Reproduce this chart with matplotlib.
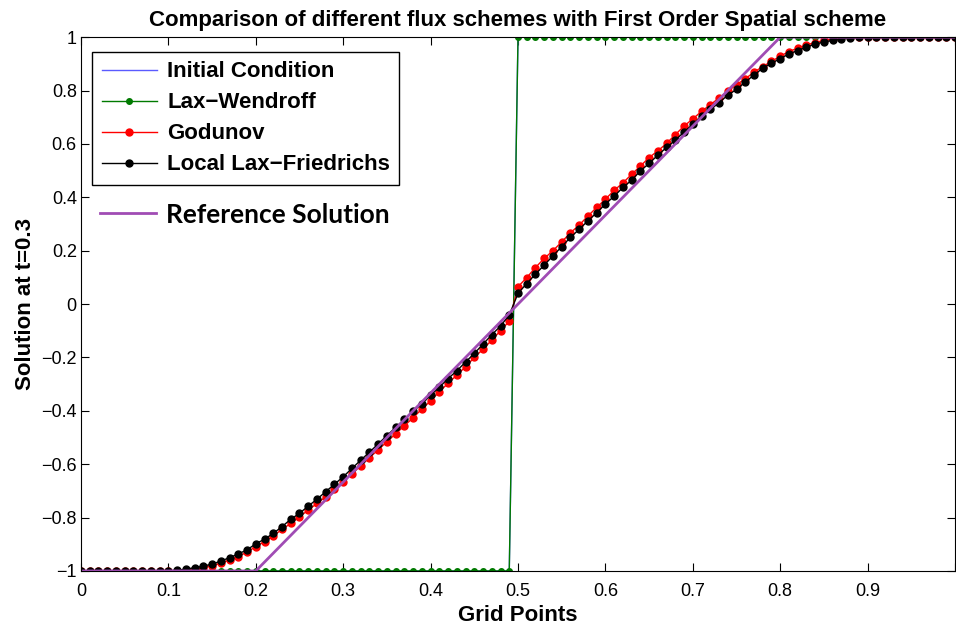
import matplotlib
matplotlib.use('Agg')
import matplotlib.pyplot as plt
import numpy as np

# grid points 0, 0.01, ..., 1
x = np.linspace(0, 1, 101)

initial = [-1] * 50 + [1] * 51
lax_wendroff = [-1] * 50 + [1] * 51

godunov = [-1] * 12 + [
    -0.999, -0.993, -0.988, -0.980, -0.971, -0.959, -0.946, -0.929,
    -0.909, -0.890, -0.869, -0.844, -0.822, -0.797, -0.772, -0.747, -0.722, -0.694,
    -0.666, -0.636, -0.606, -0.576, -0.546, -0.516, -0.486, -0.456, -0.426, -0.393,
    -0.363, -0.328, -0.297, -0.266, -0.235, -0.200, -0.169, -0.135, -0.100, -0.064,
    0.065, 0.099, 0.137, 0.171, 0.200, 0.233, 0.267, 0.296, 0.330, 0.362,
    0.393, 0.426, 0.454, 0.486, 0.517, 0.549, 0.574, 0.602, 0.635, 0.667,
    0.694, 0.722, 0.747, 0.772, 0.797, 0.822, 0.844, 0.869, 0.890, 0.909,
    0.929, 0.946, 0.959, 0.971, 0.980, 0.988, 0.993, 0.999] + [1] * 13

llf = [-1] * 10 + [
    -0.999, -0.998, -0.993, -0.988, -0.982, -0.974, -0.963, -0.950, -0.936, -0.921,
    -0.898, -0.881, -0.859, -0.834, -0.806, -0.784, -0.757, -0.731, -0.703, -0.675,
    -0.647, -0.616, -0.585, -0.555, -0.524, -0.493, -0.462, -0.432, -0.401, -0.375,
    -0.341, -0.312, -0.279, -0.250, -0.217, -0.185, -0.150, -0.115, -0.082, -0.041,
    0.040, 0.077, 0.112, 0.146, 0.181, 0.215, 0.250, 0.280, 0.312, 0.342,
    0.375, 0.404, 0.437, 0.464, 0.499, 0.527, 0.558, 0.587, 0.614, 0.645,
    0.674, 0.704, 0.729, 0.754, 0.783, 0.804, 0.832, 0.858, 0.884, 0.902,
    0.920, 0.937, 0.950, 0.963, 0.974, 0.982, 0.988, 0.994, 0.998, 0.999] + [1] * 11

x_ref = [0, 0.2, 0.8, 1]
y_ref = [-1, -1, 1, 1]

xticks = [0, 0.1, 0.2, 0.3, 0.4, 0.5, 0.6, 0.7, 0.8, 0.9, 1]
# last label ("1") falls off the right edge in the original, so left blank
xlabels = ['0', '0.1', '0.2', '0.3', '0.4', '0.5', '0.6', '0.7', '0.8', '0.9', '']
yticks = [-1, -0.8, -0.6, -0.4, -0.2, 0, 0.2, 0.4, 0.6, 0.8, 1]
ylabels = ['\u22121', '\u22120.8', '\u22120.6', '\u22120.4', '\u22120.2', '0',
           '0.2', '0.4', '0.6', '0.8', '1']

plt.rcParams['font.family'] = ['Liberation Sans', 'DejaVu Sans']

fig = plt.figure(figsize=(9.56, 6.3), dpi=100)
ax = fig.add_axes([0.0847, 0.0937, 0.9143, 0.8473])

h1, = ax.plot(x, initial, color='#5a5aff', lw=1.0, label='Initial Condition')
h2, = ax.plot(x, lax_wendroff, color='#007a00', lw=1.0, marker='o', ms=4.0,
              label='Lax\u2212Wendroff')
h3, = ax.plot(x, godunov, color='#ff0000', lw=1.0, marker='o', ms=5.0,
              label='Godunov')
h4, = ax.plot(x, llf, color='black', lw=1.0, marker='o', ms=5.0,
              label='Local Lax\u2212Friedrichs')
h5, = ax.plot(x_ref, y_ref, color='#a04cb4', lw=2.0, label='Reference Solution')

ax.set_xlim(0, 1)
ax.set_ylim(-1, 1)
ax.set_xticks(xticks)
ax.set_yticks(yticks)
ax.set_xticklabels(xlabels)
ax.set_yticklabels(ylabels)
ax.tick_params(direction='in', top=True, right=True, labelsize=13, length=6)
ax.tick_params(axis='x', pad=9)
ax.tick_params(axis='y', pad=3)

ax.set_xlabel('Grid Points', fontsize=16, fontweight='bold', labelpad=3)
ax.set_ylabel('Solution at t=0.3', fontsize=16, fontweight='bold', labelpad=4)
ax.set_title('Comparison of different flux schemes with First Order Spatial scheme',
             fontsize=16, fontweight='bold', pad=8)

leg1 = ax.legend(handles=[h1, h2, h3, h4], loc='upper left', bbox_to_anchor=(0.013, 0.972),
                 prop={'size': 16, 'weight': 'bold'}, fancybox=False, edgecolor='black',
                 handlelength=2.5, handletextpad=0.45, labelspacing=0.45, borderpad=0.42,
                 borderaxespad=0, framealpha=1)
leg1.get_frame().set_linewidth(1.0)
ax.add_artist(leg1)
ax.legend(handles=[h5], loc='upper left', bbox_to_anchor=(0.013, 0.705),
          prop={'family': 'Lato', 'size': 19, 'weight': 'bold'}, frameon=False,
          handlelength=2.1, handletextpad=0.4, borderpad=0.3, borderaxespad=0)

fig.savefig('out.png', dpi=100)
